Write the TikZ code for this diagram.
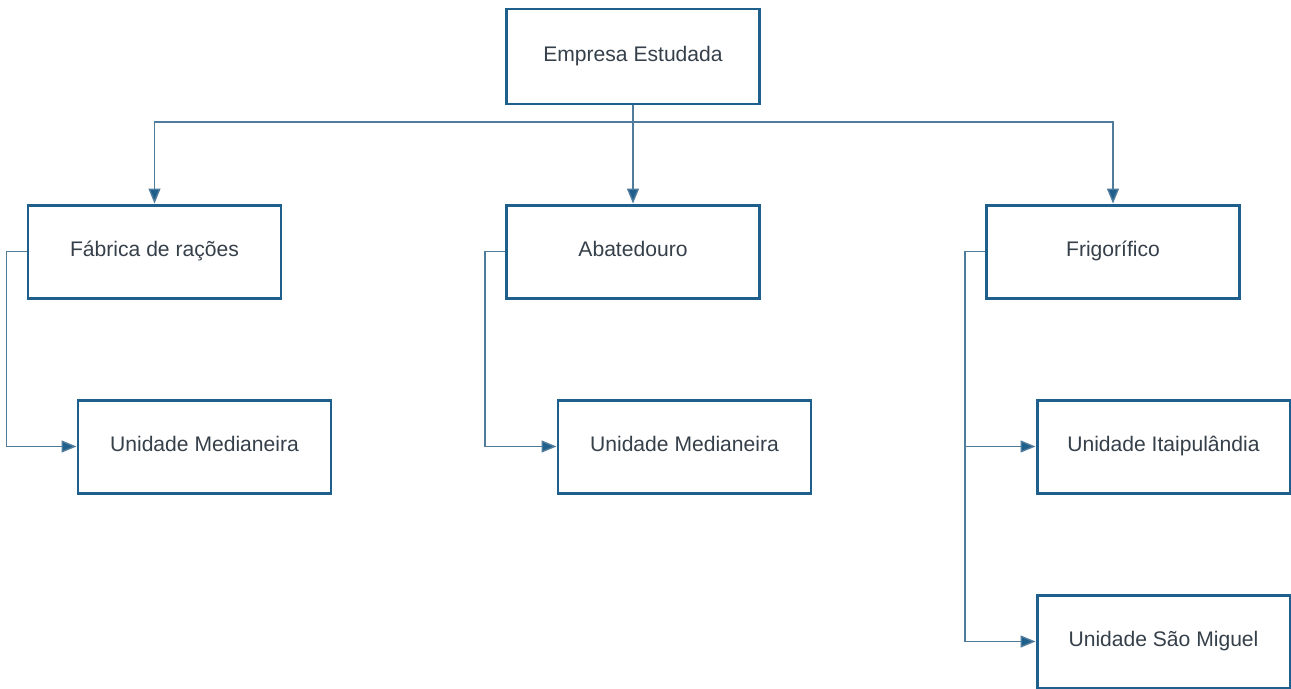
\documentclass[tikz,border=0pt]{standalone}
\usepackage{fontspec}
\setmainfont{Liberation Sans}
\usetikzlibrary{arrows.meta}
\definecolor{boxblue}{HTML}{1E5F8C}
\definecolor{linkblue}{HTML}{4F7C9C}
\definecolor{txtgray}{HTML}{36404A}
\tikzset{
  unit/.style={draw=boxblue, line width=1.7pt, fill=white, minimum width=5.06cm,
    minimum height=1.86cm, text=txtgray, text height=1.6ex, text depth=0.45ex,
    font=\fontsize{12}{14}\selectfont},
  link/.style={draw=linkblue, line width=0.8pt,
    -{Triangle[length=0.3cm,width=0.24cm,fill=boxblue]}},
  plain/.style={draw=linkblue, line width=0.8pt}
}
\begin{document}
\begin{tikzpicture}
\useasboundingbox (0,0) rectangle (25.82,-13.76);
% Top level
\node[unit, minimum height=1.9cm] (empresa) at (12.66,-1.13) {Empresa Estudada};
\coordinate (bus) at (12.66,-2.44);

% Second level
\node[unit] (fabrica) at (3.09,-5.03) {Fábrica de rações};
\node[unit] (abate) at (12.66,-5.03) {Abatedouro};
\node[unit] (frigo) at (22.26,-5.03) {Frigorífico};

% Units
\node[unit] (med1) at (4.09,-8.93) {Unidade Medianeira};
\node[unit] (med2) at (13.69,-8.93) {Unidade Medianeira};
\node[unit] (itai) at (23.27,-8.93) {Unidade Itaipulândia};
\node[unit] (sao) at (23.27,-12.83) {Unidade São Miguel};

% Connectors
\draw[plain] (empresa.south) -- (bus);
\draw[link] (bus) -| (fabrica.north);
\draw[link] (bus) -- (abate.north);
\draw[link] (bus) -| (frigo.north);
\draw[link] (fabrica.west) -- ++(-0.4,0) |- (med1.west);
\draw[link] (abate.west) -- ++(-0.4,0) |- (med2.west);
\draw[link] (frigo.west) -- ++(-0.4,0) |- (itai.west);
\draw[link] (frigo.west) -- ++(-0.4,0) |- (sao.west);
\end{tikzpicture}
\end{document}
